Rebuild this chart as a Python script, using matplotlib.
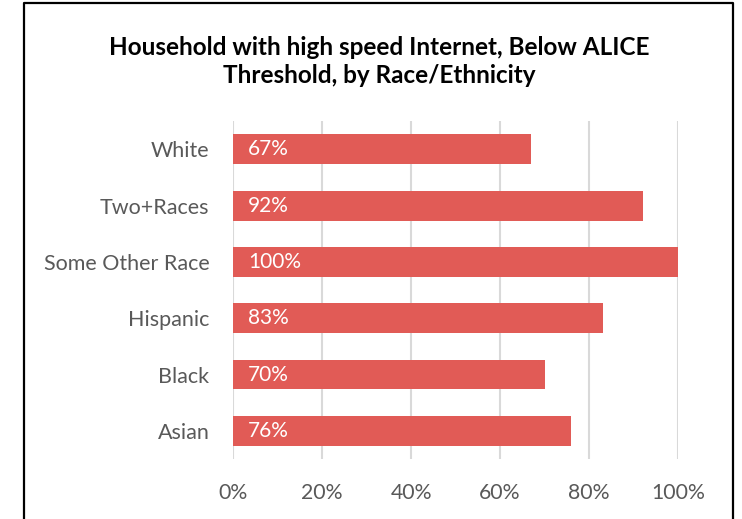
import matplotlib.pyplot as plt
from matplotlib.lines import Line2D
from matplotlib.ticker import PercentFormatter

plt.rcParams['font.family'] = ['Lato', 'DejaVu Sans']

categories = ['Asian', 'Black', 'Hispanic', 'Some Other Race', 'Two+Races', 'White']
values = [76, 70, 83, 100, 92, 67]
xticks = [0, 20, 40, 60, 80, 100]

bar_color = '#E15B56'
text_grey = '#595959'

fig = plt.figure(figsize=(7.42, 5.19), dpi=100)
ax = fig.add_axes([0.314, 0.1156, 0.600, 0.651])

y = range(len(categories))
ax.barh(y, values, height=0.53, color=bar_color, zorder=3)
for yi, v in zip(y, values):
    ax.text(3.4, yi, f'{v}%', color='white', fontsize=15, va='center', ha='left', zorder=4)

ax.set_xlim(0, 100)
ax.set_ylim(-0.5, len(categories) - 0.5)
ax.set_yticks(list(y))
ax.set_yticklabels(categories, fontsize=15.5, color=text_grey)
ax.set_xticks(xticks)
ax.xaxis.set_major_formatter(PercentFormatter(decimals=0))
ax.tick_params(axis='x', length=0, pad=17, labelsize=15.3, labelcolor=text_grey)
ax.tick_params(axis='y', length=0, pad=17)
ax.grid(axis='x', color='#D9D9D9', linewidth=1.5, zorder=0)
for s in ax.spines.values():
    s.set_visible(False)

fig.text(0.511, 0.909, 'Household with high speed Internet, Below ALICE',
         ha='center', va='center', fontsize=17.5, fontweight='bold')
fig.text(0.511, 0.855, 'Threshold, by Race/Ethnicity',
         ha='center', va='center', fontsize=17.5, fontweight='bold')

# outer frame of the chart (open at the bottom)
fx0, fx1, fy = 24 / 742, 733 / 742, 1 - 3 / 519
fig.add_artist(Line2D([fx0, fx0, fx1, fx1], [0, fy, fy, 0], color='black', linewidth=1.6,
                      transform=fig.transFigure))

fig.savefig('out.png', dpi=100)
